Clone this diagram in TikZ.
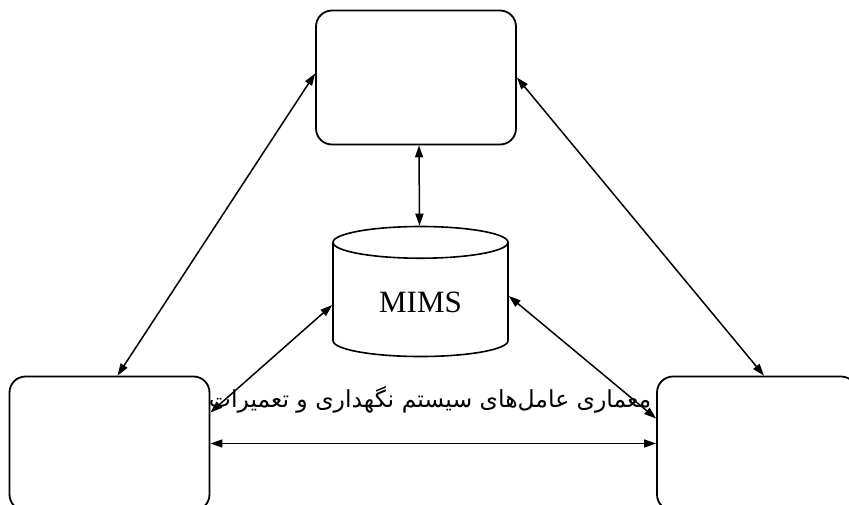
\documentclass[tikz,border=0pt]{standalone}
\usepackage{fontspec}
\setmainfont{Liberation Serif}
\newfontfamily\arabicfont[Script=Arabic]{DejaVu Sans}
\TeXXeTstate=1
\usetikzlibrary{shapes.geometric,arrows.meta}

\begin{document}
\begin{tikzpicture}[x=1pt,y=-1pt,
  agent/.style={draw,line width=1.8pt,rounded corners=16pt,minimum width=200pt,minimum height=134pt},
  store/.style={draw,line width=1.6pt,cylinder,shape border rotate=90,aspect=0.355,minimum width=175pt,minimum height=130pt,font=\fontsize{31}{37}\selectfont},
  link/.style={line width=1.5pt,{Triangle[length=12pt,width=8pt]}-{Triangle[length=12pt,width=8pt]}}]
\useasboundingbox (0,0) rectangle (849,504);

\node[agent](top) at (416,77.5){};
\node[agent](lb) at (109.5,443.5){};
\node[agent](rb) at (757,443.5){};
\node[store](db) at (420.5,302){MIMS};
\node(caption) at (430,400){\arabicfont\fontsize{23.5}{28}\selectfont\beginR معماری عامل‌های سیستم نگهداری و تعمیرات\endR};

%\draw[link](top.south)--(db.north);
\draw[link]([yshift=4pt]top.west)--([xshift=8pt]lb.north);
\draw[link](top.east)--([xshift=7pt]rb.north);
\draw[link]([xshift=3pt]top.south)--([xshift=-1pt]db.north);
\draw[link]([yshift=-3pt]db.west)--([yshift=31pt]lb.east);
\draw[link]([yshift=6pt]db.east)--([yshift=25pt]rb.west);
\draw[link](lb.east)--(rb.west);
\end{tikzpicture}
\end{document}
